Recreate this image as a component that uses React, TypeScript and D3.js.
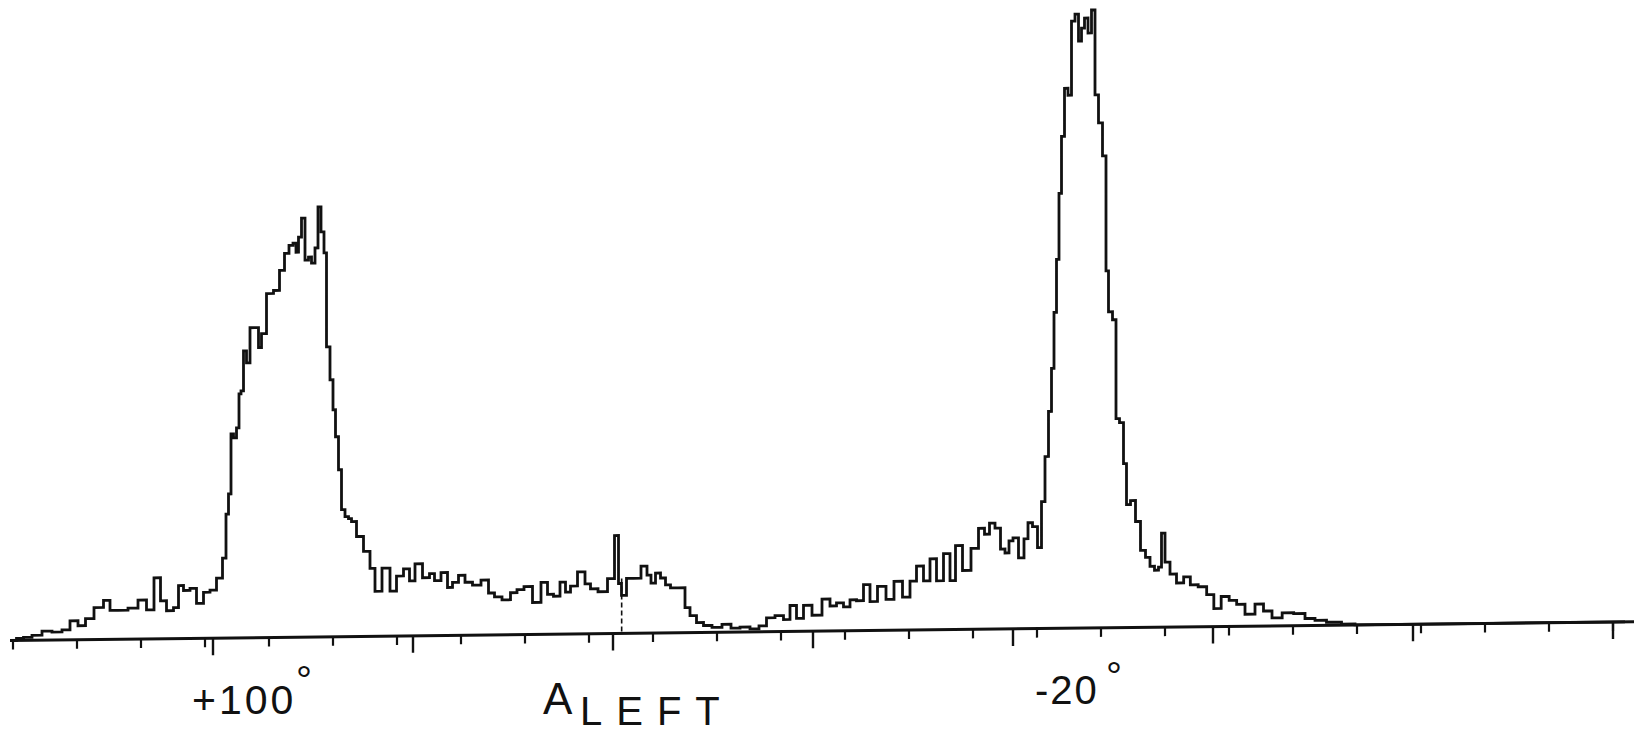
import React from "react";
import * as d3 from "d3";

// Angle (degrees) at each traced channel, and counts there
const angles: number[] = [
  130.0, 128.95, 127.9, 126.4, 124.9, 123.4, 121.9, 121.0, 119.5, 118.75, 116.95, 115.9, 115.0, 113.5, 112.0,
  110.5, 109.45, 108.25, 107.5, 106.45, 105.4, 104.95, 103.9, 103.0, 101.95, 100.9, 100.0, 98.95, 98.2, 97.9,
  97.45, 97.15, 96.7, 96.25, 95.95, 95.65, 95.2, 94.75, 94.15, 93.4, 92.95, 92.5, 91.45, 90.4, 89.65, 88.9,
  88.3, 87.7, 87.4, 86.95, 86.5, 85.9, 85.45, 85.0, 84.4, 84.1, 83.5, 83.2, 82.75, 82.15, 81.85, 81.4, 80.95,
  80.5, 79.9, 79.45, 79.0, 77.95, 76.9, 76.0, 75.4, 73.9, 73.0, 71.95, 70.9, 70.15, 69.25, 67.9, 67.15, 66.4,
  65.2, 64.45, 63.7, 62.65, 61.75, 60.4, 59.2, 58.15, 57.4, 55.9, 54.85, 53.95, 52.75, 51.4, 50.2, 49.45,
  48.4, 47.5, 46.75, 46.0, 44.65, 43.75, 43.0, 41.5, 40.15, 39.4, 38.95, 38.5, 37.45, 36.4, 35.2, 34.6, 34.0,
  33.25, 32.5, 31.75, 31.0, 29.5, 28.9, 28.0, 26.95, 25.9, 24.4, 22.9, 21.7, 20.2, 18.7, 17.5, 16.45, 14.95,
  13.9, 13.0, 11.95, 10.9, 9.4, 7.9, 7.0, 5.95, 4.9, 4.0, 2.95, 1.9, 1.0, -0.35, -1.55, -2.75, -4.1, -5.0,
  -6.05, -7.1, -8.0, -9.05, -10.1, -11.0, -11.75, -13.1, -14.3, -15.35, -16.1, -16.85, -17.75, -18.5, -19.1,
  -19.7, -20.3, -21.35, -21.95, -22.55, -23.3, -24.05, -24.5, -25.1, -25.55, -26.0, -26.3, -26.75, -27.05,
  -27.5, -27.95, -28.55, -29.0, -29.6, -30.05, -30.5, -30.95, -31.55, -32.0, -32.6, -33.05, -33.8, -34.1,
  -34.55, -35.3, -35.6, -36.35, -36.8, -37.25, -38.0, -38.75, -39.5, -40.25, -40.85, -41.6, -42.05, -42.5,
  -43.1, -44.0, -45.05, -46.15, -47.05, -48.5, -49.6, -50.65, -51.8, -53.05, -54.05, -55.55, -57.05, -58.1,
  -59.6, -61.15, -63.05, -64.55, -66.05, -68.0, -70.55, -72.05, -111.8,
];

const counts: number[] = [
  0, 2, 3, 5, 9, 8, 10, 19, 14, 21, 32, 39, 29, 29, 31,
  39, 29, 61, 38, 28, 31, 53, 48, 50, 35, 46, 48, 60, 80, 124,
  144, 204, 200, 210, 244, 247, 287, 275, 310, 310, 290, 304, 344, 347, 367, 384,
  392, 394, 385, 400, 419, 377, 380, 374, 389, 430, 405, 384, 290, 257, 227, 200, 167,
  127, 120, 118, 115, 100, 85, 68, 45, 68, 45, 60, 67, 55, 72, 58, 62, 55,
  63, 48, 53, 60, 53, 50, 55, 42, 38, 35, 42, 45, 48, 32, 52, 40,
  38, 52, 42, 48, 62, 50, 45, 42, 55, 98, 50, 38, 55, 55, 67, 58, 50,
  60, 55, 48, 45, 45, 25, 17, 10, 7, 5, 8, 4, 5, 3, 6, 14, 16,
  12, 26, 13, 26, 16, 32, 25, 28, 24, 31, 30, 46, 29, 44, 31, 49, 33, 49,
  64, 49, 71, 49, 76, 49, 84, 59, 81, 101, 95, 106, 101, 80, 76,
  88, 91, 71, 90, 106, 102, 81, 127, 172, 217, 260, 316, 369, 435,
  492, 540, 533, 607, 614, 587, 600, 610, 595, 618, 533, 505, 472, 357,
  316, 308, 209, 205, 164, 123, 127, 106, 77, 70, 61, 57, 60, 94,
  65, 53, 44, 50, 42, 40, 32, 18, 30, 26, 22, 12, 22, 15,
  8, 13, 12, 7, 5, 3, 1, 0, 0,
];

const majorTicks: number[] = [100, 70, 40, 10, -20, -50, -80, -110];
const minorTicks: number[] = [
  130, 120.4, 110.8, 101.2, 91.6, 82, 72.4, 62.8, 53.2, 43.6, 34, 24.4, 14.8, 5.2, -4.4, -14, -23.6,
  -33.2, -42.8, -52.4, -62, -71.6, -81.2, -90.8, -100.4, -110,
];

// the one dropped channel drawn as a dashed stroke down to the axis
const gapAngles: number[] = [38.7];
const gapCounts: number[] = [55];

const W = 1634;
const H = 733;
const X0 = 13;
const X1 = 1613;
const BASE = 640.5;
const SLOPE = -0.0116; // baseline drift of the scanned trace

export default function App() {
  const x = d3.scaleLinear().domain([130, -110]).range([X0, X1]);
  const y = d3.scaleLinear().domain([0, 620]).range([BASE, BASE - 620]);
  const pts = angles.map((a, i) => [a, counts[i]] as [number, number]);
  const line = d3
    .line<[number, number]>()
    .x((d) => x(d[0]))
    .y((d) => y(d[1]))
    .curve(d3.curveStep);
  const font = "'Liberation Sans', Arial, sans-serif";
  const shear = `matrix(1, ${SLOPE}, 0, 1, 0, ${-SLOPE * X0})`;
  return (
    <svg
      width={W}
      height={H}
      style={{ position: "absolute", left: 0, top: 0, display: "block", background: "#fff" }}
    >
      <rect width={W} height={H} fill="#fff" />
      <g transform={shear}>
        <line x1={X0 - 3} x2={W + 10} y1={BASE} y2={BASE} stroke="#111" strokeWidth={3} />
        {minorTicks.map((t, i) => (
          <line key={"mi" + i} x1={x(t)} x2={x(t)} y1={BASE} y2={BASE + 9} stroke="#111" strokeWidth={2.2} />
        ))}
        {majorTicks.map((t, i) => (
          <line key={"ma" + i} x1={x(t)} x2={x(t)} y1={BASE} y2={BASE + 17} stroke="#111" strokeWidth={2.4} />
        ))}
        {gapAngles.map((g, i) => (
          <line
            key={"gap" + i}
            x1={x(g)}
            x2={x(g)}
            y1={y(gapCounts[i])}
            y2={BASE}
            stroke="#111"
            strokeWidth={1.6}
            strokeDasharray="5 3"
          />
        ))}
        <path d={line(pts) || ""} fill="none" stroke="#111" strokeWidth={2.8} strokeLinejoin="miter" />
      </g>
      <g fill="#111" fontFamily={font}>
        <text x={192} y={714} fontSize={41} letterSpacing={3}>
          +100
        </text>
        <text x={296} y={694} fontSize={40}>
          °
        </text>
        <text x={1035} y={704} fontSize={40} letterSpacing={2}>
          -20
        </text>
        <text x={1106} y={690} fontSize={40}>
          °
        </text>
        <text x={543} y={714} fontSize={44}>
          A
        </text>
        <text x={580} y={725} fontSize={40} letterSpacing={14}>
          LEFT
        </text>
      </g>
    </svg>
  );
}
